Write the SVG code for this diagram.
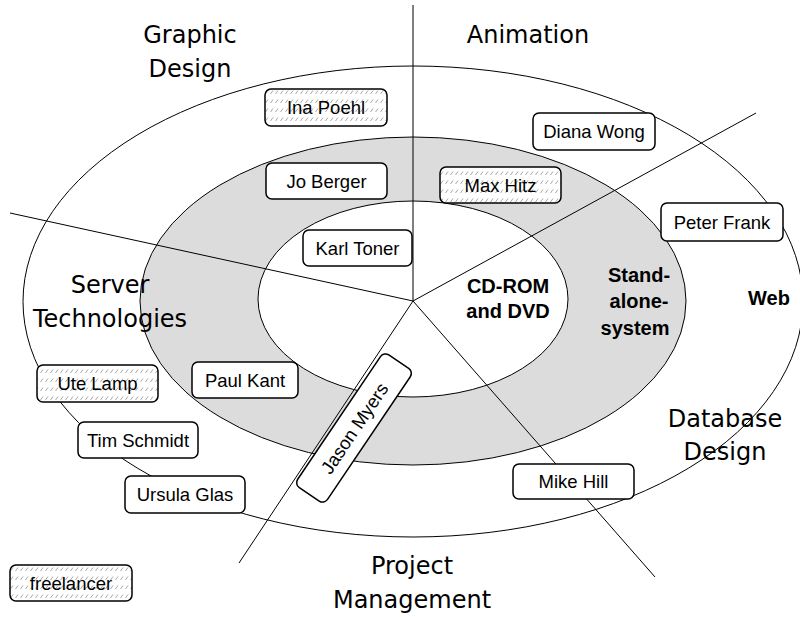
<svg xmlns="http://www.w3.org/2000/svg" width="800" height="617" viewBox="0 0 800 617">
<defs>
<pattern id="hatch" width="5" height="9" patternUnits="userSpaceOnUse">
<rect width="5" height="9" fill="#fff"/>
<line x1="0.5" y1="4" x2="3" y2="0.5" stroke="#a8a8a8" stroke-width="1"/>
</pattern>
<style>
.box{fill:#fff;stroke:#000;stroke-width:1.5}
.hb{fill:url(#hatch);stroke:#000;stroke-width:1.5}
.nt{font-family:"Liberation Sans",Arial,sans-serif;font-size:18.5px;fill:#000;text-anchor:middle}
.cat{font-family:"Comic Sans MS","DejaVu Sans",sans-serif;font-size:24px;fill:#000;text-anchor:middle}
.bl{font-family:"Liberation Sans",Arial,sans-serif;font-size:20px;font-weight:bold;fill:#000;text-anchor:middle}
.ln{stroke:#000;stroke-width:1;fill:none}
</style>
</defs>
<rect width="800" height="617" fill="#fff"/>
<g id="rings">
<ellipse cx="413" cy="301.5" rx="390" ry="235.5" fill="#fff" stroke="#000" stroke-width="1"/>
<ellipse cx="413" cy="301" rx="273" ry="164" fill="#dcdcdc" stroke="#000" stroke-width="1"/>
<ellipse cx="413" cy="299" rx="155" ry="98" fill="#fff" stroke="#000" stroke-width="1"/>
</g>
<g id="connectors">
<line class="ln" x1="413" y1="5" x2="413" y2="301"/>
<line class="ln" x1="413" y1="301" x2="756" y2="113"/>
<line class="ln" x1="413" y1="301" x2="10" y2="213"/>
<line class="ln" x1="413" y1="301" x2="239" y2="563"/>
<line class="ln" x1="413" y1="301" x2="655" y2="577"/>
</g>
<g id="labels">
<text class="cat" x="190" y="43">Graphic</text>
<text class="cat" x="190" y="77">Design</text>
<text class="cat" x="528" y="43">Animation</text>
<text class="cat" x="110" y="293">Server</text>
<text class="cat" x="110" y="327">Technologies</text>
<text class="cat" x="725" y="427">Database</text>
<text class="cat" x="725" y="460">Design</text>
<text class="cat" x="412" y="574">Project</text>
<text class="cat" x="412" y="608">Management</text>
<text class="bl" x="508" y="293">CD-ROM</text>
<text class="bl" x="508" y="318">and DVD</text>
<text class="bl" x="639" y="282">Stand-</text>
<text class="bl" x="639" y="308">alone-</text>
<text class="bl" x="635" y="335">system</text>
<text class="bl" x="769" y="305">Web</text>
</g>
<g id="ina"><rect class="hb" x="265" y="89" width="122" height="37" rx="6"/><text class="nt" x="326" y="114">Ina Poehl</text></g>
<g id="jo"><rect class="box" x="266" y="163" width="121" height="36" rx="6"/><text class="nt" x="326.5" y="188">Jo Berger</text></g>
<g id="max"><rect class="hb" x="440" y="167" width="121" height="36" rx="6"/><text class="nt" x="500.5" y="192">Max Hitz</text></g>
<g id="diana"><rect class="box" x="533" y="113" width="122" height="37" rx="6"/><text class="nt" x="594" y="138">Diana Wong</text></g>
<g id="peter"><rect class="box" x="661" y="203" width="122" height="38" rx="6"/><text class="nt" x="722" y="229">Peter Frank</text></g>
<g id="karl"><rect class="box" x="303" y="230" width="109" height="36" rx="6"/><text class="nt" x="357.5" y="255">Karl Toner</text></g>
<g id="paul"><rect class="box" x="192" y="362" width="106" height="36" rx="6"/><text class="nt" x="245" y="387">Paul Kant</text></g>
<g id="ute"><rect class="hb" x="37" y="365" width="121" height="37" rx="6"/><text class="nt" x="97.5" y="390">Ute Lamp</text></g>
<g id="tim"><rect class="box" x="78" y="422" width="120" height="36" rx="6"/><text class="nt" x="138" y="447">Tim Schmidt</text></g>
<g id="ursula"><rect class="box" x="125" y="476" width="120" height="37" rx="6"/><text class="nt" x="185" y="501">Ursula Glas</text></g>
<g id="mike"><rect class="box" x="513" y="464" width="121" height="35" rx="6"/><text class="nt" x="573.5" y="488">Mike Hill</text></g>
<g id="freelancer"><rect class="hb" x="10" y="565" width="122" height="36" rx="6"/><text class="nt" x="71" y="590">freelancer</text></g>
<g id="jason" transform="translate(354 428) rotate(-56)"><rect class="box" x="-80" y="-18" width="160" height="36" rx="6"/><text class="nt" x="0" y="7">Jason Myers</text></g>
</svg>
